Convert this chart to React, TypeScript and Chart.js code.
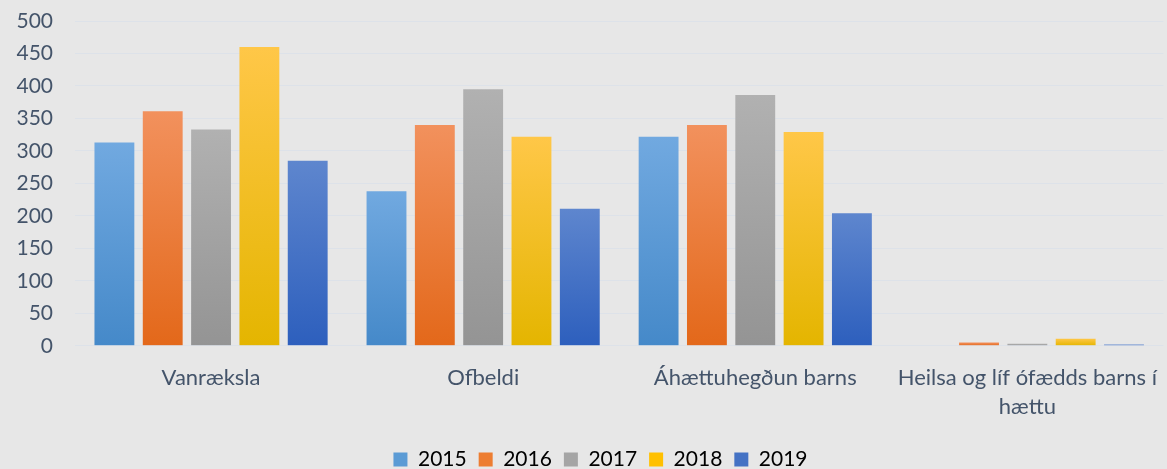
import React, { useEffect, useRef } from "react";
import { Chart, registerables } from "chart.js";

Chart.register(...registerables);

const categories: (string | string[])[] = [
  "Vanræksla",
  "Ofbeldi",
  "Áhættuhegðun barns",
  ["Heilsa og líf ófædds barns í", "hættu"],
];
const years = ["2015", "2016", "2017", "2018", "2019"];
const v2015 = [313, 238, 322, 0];
const v2016 = [361, 340, 340, 5];
const v2017 = [333, 395, 386, 3];
const v2018 = [460, 322, 329, 11];
const v2019 = [285, 211, 204, 2];
const yTicks = [0, 50, 100, 150, 200, 250, 300, 350, 400, 450, 500];

const seriesValues = [v2015, v2016, v2017, v2018, v2019];
const topColors = ["#71a9e0", "#f2915d", "#b1b1b1", "#ffc748", "#5e86ce"];
const bottomColors = ["#4589c9", "#e3681a", "#949494", "#e4b500", "#2d5fbd"];
const midColors = ["#5b9bd5", "#ed7d31", "#a5a5a5", "#ffc000", "#4472c4"];

const legendFitPlugin = {
  id: "legendFit",
  afterInit(chart: any) {
    const lg = chart.legend;
    if (lg && !lg.__patched) {
      const orig = lg.fit.bind(lg);
      lg.fit = function () {
        orig();
        this.height = 32;
      };
      lg.__patched = true;
    }
  },
  afterLayout(chart: any) {
    const lg = chart.legend;
    if (lg) {
      lg.left += 17;
      lg.right += 17;
    }
  },
};

export default function App() {
  const ref = useRef<HTMLCanvasElement | null>(null);
  useEffect(() => {
    document.body.style.margin = "0";
    document.body.style.background = "#e7e7e7";
    const ctx = ref.current!.getContext("2d")!;
    const chart = new Chart(ctx, {
      type: "bar",
      plugins: [legendFitPlugin],
      data: {
        labels: categories,
        datasets: seriesValues.map((vals, i) => ({
          label: years[i],
          data: vals,
          backgroundColor: (c: any) => {
            const chartObj = c.chart;
            const ys = chartObj.scales && chartObj.scales.y;
            if (!ys || c.type !== "data") return midColors[i];
            const v = c.parsed ? c.parsed.y : 0;
            const top = ys.getPixelForValue(v);
            const base = ys.getPixelForValue(0);
            if (!isFinite(top) || !isFinite(base) || base - top < 1) return midColors[i];
            const g = chartObj.ctx.createLinearGradient(0, top, 0, base);
            g.addColorStop(0, topColors[i]);
            g.addColorStop(1, bottomColors[i]);
            return g;
          },
          borderWidth: 0,
          categoryPercentage: 0.888,
          barPercentage: 0.825,
        })),
      },
      options: {
        animation: false,
        responsive: false,
        maintainAspectRatio: false,
        layout: { padding: { left: 0, right: 0, top: 0, bottom: 0 } },
        scales: {
          x: {
            grid: { display: false },
            border: { display: false },
            ticks: {
              color: "#44546A",
              font: { family: "Lato", size: 22, lineHeight: 1.3 },
              padding: 10,
              maxRotation: 0,
              autoSkip: false,
            },
            afterFit: (axis: any) => {
              axis.height += 6;
            },
          },
          y: {
            min: 0,
            max: 500,
            afterBuildTicks: (axis: any) => {
              axis.ticks = yTicks.map((v) => ({ value: v }));
            },
            afterFit: (axis: any) => {
              axis.width = 75;
              axis.paddingTop = 21;
              axis.paddingBottom = 0;
            },
            grid: { color: "#dde2e9", lineWidth: 1, drawTicks: false },
            border: { display: false },
            ticks: {
              color: "#44546A",
              font: { family: "Lato", size: 21 },
              padding: 22,
            },
          },
        },
        plugins: {
          tooltip: { enabled: false },
          legend: {
            position: "bottom",
            labels: {
              color: "#44546A",
              font: { family: "Lato", size: 21 },
              boxWidth: 14,
              boxHeight: 14,
              padding: 12,
              generateLabels: () =>
                years.map((y, i) => ({
                  text: y,
                  fillStyle: midColors[i],
                  strokeStyle: midColors[i],
                  lineWidth: 0,
                  datasetIndex: i,
                  hidden: false,
                })),
            },
          },
        },
      },
    });
    return () => chart.destroy();
  }, []);
  return (
    <div style={{ width: 1167, height: 469, background: "#e7e7e7" }}>
      <canvas ref={ref} width={1167} height={469} />
    </div>
  );
}
